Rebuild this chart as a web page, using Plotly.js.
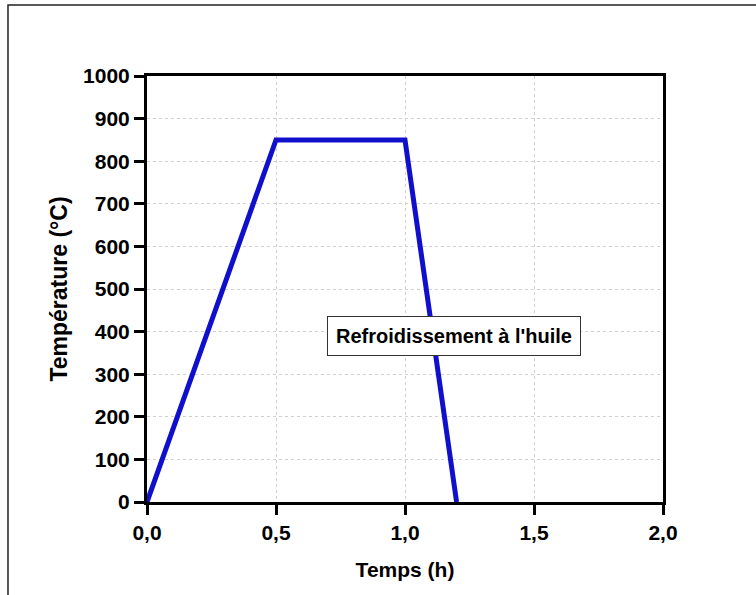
<!DOCTYPE html>
<html>
<head>
<meta charset="utf-8">
<script src="https://cdn.plot.ly/plotly-3.0.1.min.js"></script>
<style>html,body{margin:0;padding:0;background:#fff;}</style>
</head>
<body>
<div id="chart" style="width:756px;height:595px;"></div>
<script>
const timeHours = [0, 0.5, 1.0, 1.2];
const temperatureC = [0, 850, 850, 0];
const xTicks = [0, 0.5, 1.0, 1.5, 2.0];
const xTickLabels = ['0,0', '0,5', '1,0', '1,5', '2,0'];
const yTicks = [0, 100, 200, 300, 400, 500, 600, 700, 800, 900, 1000];
const annotationText = "Refroidissement à l'huile";
const annotationPos = {x: 1.19, y: 390};

const font = 'Liberation Sans, Arial, sans-serif';

const trace = {
  x: timeHours,
  y: temperatureC,
  mode: 'lines',
  line: {color: '#1010cc', width: 5},
  cliponaxis: false,
  hoverinfo: 'skip'
};

const axisCommon = {
  showline: true,
  linecolor: '#000',
  linewidth: 3,
  mirror: true,
  ticks: 'outside',
  ticklen: 10,
  tickwidth: 3,
  tickcolor: '#000',
  showgrid: true,
  gridcolor: '#d0d0d0',
  gridwidth: 1,
  griddash: 'dot',
  zeroline: false,
  tickfont: {family: font, size: 21, color: '#000', weight: 'bold'}
};

const layout = {
  width: 756,
  height: 595,
  margin: {l: 147, r: 93, t: 76, b: 93},
  paper_bgcolor: '#fff',
  plot_bgcolor: '#fff',
  showlegend: false,
  xaxis: Object.assign({}, axisCommon, {
    range: [0, 2],
    tickmode: 'array',
    tickvals: xTicks,
    ticktext: xTickLabels,
    title: {text: 'Temps (h)', standoff: 20, font: {family: font, size: 21, color: '#000', weight: 'bold'}}
  }),
  yaxis: Object.assign({}, axisCommon, {
    range: [0, 1000],
    tickmode: 'array',
    tickvals: yTicks,
    ticktext: yTicks.map(String),
    title: {text: 'Température (°C)', standoff: 10, font: {family: font, size: 23, color: '#000', weight: 'bold'}}
  }),
  annotations: [{
    x: annotationPos.x, y: annotationPos.y, xref: 'x', yref: 'y',
    text: annotationText,
    showarrow: false,
    font: {family: font, size: 20, color: '#000', weight: 'bold'},
    bgcolor: '#fff',
    bordercolor: '#333',
    borderwidth: 1,
    borderpad: 8
  }],
  shapes: [{
    type: 'rect', xref: 'paper', yref: 'paper',
    x0: -0.2694, x1: 1.35, y0: -0.35, y1: 1.1667,
    line: {color: '#222', width: 1.5},
    fillcolor: 'rgba(0,0,0,0)',
    layer: 'below'
  }]
};

Plotly.newPlot('chart', [trace], layout, {displayModeBar: false, staticPlot: true});
</script>
</body>
</html>
